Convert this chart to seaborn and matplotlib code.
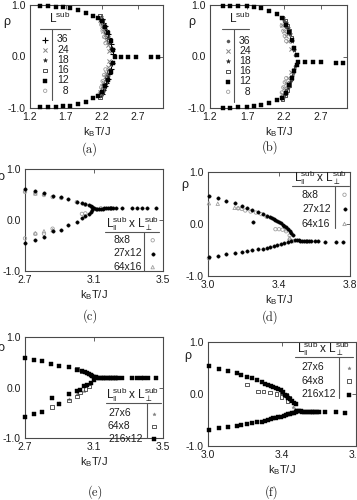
import matplotlib
matplotlib.use("Agg")
import matplotlib.pyplot as plt
import seaborn as sns
from matplotlib.lines import Line2D

# ---------------- data ----------------
y_ticks = [-1.0, 0.0, 1.0]
y_ticklabels = ["-1.0", "0.0", "1.0"]
ab_xticks = [1.2, 1.7, 2.2, 2.7]
ab_xticklabels = ["1.2", "1.7", "2.2", "2.7"]
ce_xticks = [2.7, 3.1, 3.5]
ce_xticklabels = ["2.7", "3.1", "3.5"]
df_xticks = [3.0, 3.4, 3.8]
df_xticklabels = ["3.0", "3.4", "3.8"]

ab_labels = ["36", "24", "18", "16", "12", "\u20078"]
cd_labels = ["8x8", "27x12", "64x16"]
ef_labels = ["27x6", "64x8", "216x12"]

# panel (a)
a_T36 = [2.20, 2.22, 2.24, 2.26, 2.28, 2.30, 2.32, 2.34, 2.36,
         2.20, 2.22, 2.24, 2.26, 2.28, 2.30, 2.32, 2.34]
a_rho36 = [0.72, 0.66, 0.60, 0.52, 0.44, 0.35, 0.25, 0.14, 0.04,
           -0.72, -0.65, -0.58, -0.52, -0.43, -0.34, -0.24, -0.13]
a_T24 = [2.18, 2.20, 2.22, 2.24, 2.26, 2.28, 2.30,
         2.18, 2.20, 2.22, 2.24, 2.26, 2.28, 2.30]
a_rho24 = [0.70, 0.60, 0.50, 0.42, 0.33, 0.22, 0.10,
           -0.68, -0.58, -0.50, -0.40, -0.32, -0.20, -0.08]
a_T18 = [2.19, 2.21, 2.23, 2.25, 2.27, 2.29, 2.31, 2.33,
         2.19, 2.21, 2.23, 2.25, 2.27, 2.29, 2.31, 2.33]
a_rho18 = [0.76, 0.70, 0.64, 0.57, 0.48, 0.38, 0.28, 0.16,
           -0.76, -0.69, -0.63, -0.56, -0.47, -0.38, -0.27, -0.15]
a_T16 = [2.17, 2.19, 2.21, 2.23, 2.25, 2.27, 2.29,
         2.17, 2.19, 2.21, 2.23, 2.25, 2.27, 2.29]
a_rho16 = [0.78, 0.72, 0.66, 0.58, 0.50, 0.40, 0.30,
           -0.78, -0.71, -0.65, -0.57, -0.49, -0.40, -0.29]
a_T12 = [1.34, 1.45, 1.56, 1.66, 1.76, 1.87, 1.98, 2.08, 2.15, 2.20, 2.25, 2.29, 2.32, 2.35,
         1.34, 1.45, 1.56, 1.66, 1.76, 1.87, 1.98, 2.08, 2.15, 2.20, 2.25, 2.29, 2.32, 2.35,
         2.38, 2.47, 2.57, 2.68, 2.89, 2.98]
a_rho12 = [0.99, 0.98, 0.97, 0.96, 0.94, 0.90, 0.85, 0.78, 0.74, 0.68, 0.58, 0.45, 0.30, 0.12,
           -0.99, -0.99, -0.98, -0.97, -0.96, -0.92, -0.88, -0.81, -0.76, -0.69, -0.58, -0.45, -0.30, -0.12,
           0.0, 0.0, 0.0, 0.0, 0.0, 0.0]
a_T8 = [2.17, 2.19, 2.21, 2.23, 2.25, 2.17, 2.19, 2.21, 2.23, 2.25]
a_rho8 = [0.74, 0.62, 0.50, 0.38, 0.26, -0.72, -0.60, -0.48, -0.36, -0.25]

# panel (b)
b_T36 = [2.20, 2.23, 2.26, 2.29, 2.32, 2.35, 2.20, 2.23, 2.26, 2.29, 2.32, 2.35]
b_rho36 = [0.68, 0.58, 0.45, 0.32, 0.18, 0.02, -0.75, -0.65, -0.55, -0.45, -0.32, -0.18]
b_T24 = [2.17, 2.20, 2.23, 2.26, 2.29, 2.17, 2.20, 2.23, 2.26, 2.29]
b_rho24 = [0.62, 0.50, 0.40, 0.30, 0.15, -0.72, -0.62, -0.52, -0.42, -0.30]
b_T18 = [2.19, 2.22, 2.25, 2.28, 2.31, 2.34, 2.19, 2.22, 2.25, 2.28, 2.31, 2.34]
b_rho18 = [0.74, 0.66, 0.56, 0.44, 0.30, 0.12, -0.80, -0.72, -0.62, -0.50, -0.38, -0.24]
b_T16 = [2.18, 2.21, 2.24, 2.27, 2.30, 2.18, 2.21, 2.24, 2.27, 2.30]
b_rho16 = [0.76, 0.70, 0.60, 0.50, 0.36, -0.82, -0.75, -0.66, -0.55, -0.42]
b_T12 = [1.38, 1.47, 1.58, 1.70, 1.79, 1.89, 1.99, 2.10, 2.17, 2.22, 2.27, 2.31, 2.34, 2.37,
         1.38, 1.47, 1.58, 1.70, 1.79, 1.89, 1.99, 2.10, 2.17, 2.22, 2.27, 2.31, 2.34, 2.37,
         2.39, 2.48, 2.59, 2.70, 2.90, 3.00]
b_rho12 = [0.99, 0.99, 0.98, 0.98, 0.97, 0.94, 0.89, 0.82, 0.74, 0.62, 0.48, 0.32, 0.16, 0.02,
           -1.00, -1.00, -0.99, -0.98, -0.97, -0.95, -0.91, -0.85, -0.80, -0.70, -0.56, -0.42, -0.28, -0.16,
           -0.10, -0.10, -0.10, -0.10, -0.13, -0.13]
b_T8 = [2.17, 2.19, 2.21, 2.23, 2.17, 2.19, 2.21, 2.23]
b_rho8 = [0.60, 0.50, 0.40, 0.30, -0.70, -0.60, -0.50, -0.42]

# panel (c)
c_T8 = [2.70, 2.76, 2.81, 2.86, 2.91, 3.00, 3.05, 3.09, 3.14, 3.20,
        2.70, 2.76, 2.81, 2.86, 3.03, 3.05]
c_rho8 = [0.55, 0.52, 0.49, 0.45, 0.43, 0.35, 0.30, 0.25, 0.23, 0.23,
          -0.36, -0.27, -0.27, -0.17, 0.12, 0.13]
c_T27 = [2.70, 2.76, 2.81, 2.86, 2.91, 2.95, 3.00, 3.03, 3.05, 3.07, 3.08, 3.09, 3.10,
         2.70, 2.76, 2.81, 2.86, 2.91, 2.95, 3.00, 3.03, 3.05, 3.07, 3.08, 3.09,
         3.11, 3.12, 3.13, 3.14, 3.15, 3.16, 3.17, 3.18, 3.19, 3.20, 3.21, 3.23, 3.26,
         3.32, 3.35, 3.38, 3.41, 3.46]
c_rho27 = [0.60, 0.57, 0.53, 0.48, 0.45, 0.41, 0.36, 0.33, 0.31, 0.29, 0.27, 0.25, 0.23,
           -0.46, -0.40, -0.33, -0.22, -0.19, -0.10, -0.03, 0.03, 0.08, 0.12, 0.16, 0.20,
           0.22, 0.22, 0.22, 0.22, 0.22, 0.23, 0.23, 0.23, 0.23, 0.23, 0.23, 0.23, 0.23,
           0.23, 0.23, 0.23, 0.23, 0.23]
c_T64 = [2.70, 2.76, 2.81, 2.76, 2.81, 2.86]
c_rho64 = [0.58, 0.52, 0.51, -0.26, -0.22, -0.20]

# panel (d)
d_T8 = [3.17, 3.19, 3.21, 3.24, 3.27, 3.30, 3.33, 3.38, 3.40, 3.42, 3.44, 3.46, 3.005, 3.46, 3.48]
d_rho8 = [0.30, 0.29, 0.26, 0.24, 0.22, 0.19, 0.14, -0.10, -0.10, -0.11, -0.14, -0.22, -0.66, -0.30, -0.33]
d_T27 = [3.005, 3.055, 3.10, 3.15, 3.19, 3.22, 3.25, 3.28, 3.31, 3.33, 3.35, 3.36, 3.37, 3.38,
         3.39, 3.40, 3.41, 3.42, 3.43, 3.44, 3.45, 3.46, 3.47, 3.48, 3.255,
         3.005, 3.055, 3.10, 3.15, 3.19, 3.22, 3.25, 3.28, 3.31, 3.33, 3.35, 3.37, 3.39,
         3.41, 3.43, 3.45, 3.47, 3.49,
         3.50, 3.51, 3.52, 3.53, 3.54, 3.55, 3.56, 3.57, 3.58, 3.60, 3.62, 3.66, 3.72, 3.76]
d_rho27 = [0.54, 0.50, 0.45, 0.40, 0.35, 0.31, 0.27, 0.24, 0.20, 0.16, 0.13, 0.11, 0.09, 0.07,
           0.05, 0.03, 0.01, -0.01, -0.03, -0.06, -0.09, -0.13, -0.17, -0.22, 0.03,
           -0.64, -0.61, -0.58, -0.55, -0.53, -0.52, -0.50, -0.49, -0.48, -0.47, -0.45, -0.43, -0.41,
           -0.39, -0.37, -0.35, -0.33, -0.31,
           -0.31, -0.31, -0.32, -0.32, -0.32, -0.32, -0.33, -0.33, -0.33, -0.33, -0.33, -0.34, -0.34, -0.34]
d_T64 = [3.005, 3.055, 3.15, 3.17, 3.44, 3.46]
d_rho64 = [0.40, 0.39, 0.31, 0.31, -0.10, -0.27]

# panel (e)
e_T27 = [2.90, 2.955, 3.00, 3.04]
e_rho27 = [-0.30, -0.22, -0.12, -0.06]
e_T64 = [2.855, 2.955, 3.00, 3.02, 3.05, 3.07, 3.00, 3.03]
e_rho64 = [-0.38, -0.26, -0.18, -0.10, -0.03, 0.02, 0.36, 0.32]
e_T216 = [2.70, 2.75, 2.80, 2.85, 2.90, 2.955, 3.00, 3.03, 3.05, 3.06, 3.07, 3.08, 3.09, 3.10,
          3.11, 3.12, 3.13,
          2.70, 2.75, 2.80, 2.855, 2.90, 2.955, 3.00, 3.02, 3.04, 3.06, 3.08, 3.10,
          3.14, 3.15, 3.16, 3.17, 3.18, 3.19, 3.20, 3.21, 3.22, 3.23, 3.24, 3.26,
          3.32, 3.35, 3.37, 3.39, 3.415, 3.46]
e_rho216 = [0.58, 0.55, 0.52, 0.47, 0.43, 0.40, 0.35, 0.32, 0.30, 0.28, 0.26, 0.24, 0.22, 0.21,
            0.20, 0.19, 0.19,
            -0.58, -0.53, -0.48, -0.21, -0.33, -0.13, -0.07, -0.04, 0.02, 0.05, 0.08, 0.14,
            0.18, 0.18, 0.18, 0.18, 0.18, 0.18, 0.18, 0.18, 0.18, 0.18, 0.18, 0.18,
            0.19, 0.19, 0.19, 0.19, 0.19, 0.19]

# panel (f)
f_T27 = [3.40, 3.42, 3.44, 3.46, 3.47]
f_rho27 = [0.05, -0.02, -0.08, -0.25, -0.28]
f_T64 = [3.21, 3.27, 3.30, 3.335, 3.37, 3.398, 3.43, 3.40, 3.42, 3.44]
f_rho64 = [0.18, 0.05, 0.05, 0.03, 0.00, -0.06, -0.13, 0.03, -0.02, -0.08]
f_T216 = [3.005, 3.06, 3.106, 3.155, 3.178, 3.21, 3.236, 3.263, 3.29, 3.31, 3.326, 3.34, 3.353,
          3.37, 3.38, 3.395, 3.405, 3.416, 3.425, 3.434, 3.445, 3.456, 3.465, 3.474,
          3.005, 3.06, 3.106, 3.155, 3.178, 3.21, 3.236, 3.263, 3.29, 3.31, 3.326, 3.34, 3.353,
          3.37, 3.38, 3.395, 3.41, 3.42, 3.434, 3.445, 3.456, 3.465, 3.474,
          3.48, 3.49, 3.50, 3.51, 3.52, 3.53, 3.54, 3.55, 3.56, 3.57, 3.58, 3.59, 3.60,
          3.63, 3.69, 3.74]
f_rho216 = [0.54, 0.49, 0.45, 0.40, 0.37, 0.33, 0.30, 0.27, 0.23, 0.20, 0.18, 0.16, 0.14,
            0.12, 0.10, 0.07, 0.03, -0.01, -0.04, -0.07, -0.10, -0.14, -0.17, -0.19,
            -0.70, -0.66, -0.64, -0.61, -0.59, -0.57, -0.56, -0.54, -0.53, -0.52, -0.50, -0.49, -0.47,
            -0.46, -0.45, -0.44, -0.43, -0.41, -0.39, -0.38, -0.37, -0.36, -0.35,
            -0.33, -0.33, -0.33, -0.34, -0.34, -0.34, -0.34, -0.34, -0.35, -0.35, -0.35, -0.35, -0.35,
            -0.35, -0.35, -0.36]

# ---------------- style ----------------
sns.set_theme(style="white")
plt.rcParams["font.family"] = ["Liberation Sans", "DejaVu Sans"]
plt.rcParams["mathtext.fontset"] = "custom"
plt.rcParams["mathtext.rm"] = "Liberation Sans"
plt.rcParams["mathtext.it"] = "Liberation Sans:italic"
plt.rcParams["mathtext.bf"] = "Liberation Sans:bold"
plt.rcParams["axes.unicode_minus"] = False

W, H = 357, 500
fig = plt.figure(figsize=(W / 100, H / 100), dpi=100)
fig.patch.set_facecolor("white")


def fx(px):
    return px / W


def fy(py):
    return 1 - py / H


STY = {
    "plus": dict(marker="+", s=14, color="black", linewidth=0.8),
    "cross": dict(marker="x", s=9, color="#858585", linewidth=0.7),
    "star": dict(marker="*", s=10, color="#202020", edgecolor="#202020", linewidth=0.3),
    "osq": dict(marker="s", s=7, color="#505050", facecolor="none", edgecolor="#505050", linewidth=0.7),
    "fsq": dict(marker="s", s=8, color="black", edgecolor="black", linewidth=0.3),
    "ocirc": dict(marker="o", s=6, color="#a0a0a0", facecolor="none", edgecolor="#a0a0a0", linewidth=0.6),
    "gdot": dict(marker="o", s=5, color="#555555", edgecolor="#555555", linewidth=0.3),
    "bdot": dict(marker="o", s=6, color="black", edgecolor="black", linewidth=0.3),
    "otri": dict(marker="^", s=6, color="#a0a0a0", facecolor="none", edgecolor="#a0a0a0", linewidth=0.6),
    "gstar": dict(marker="*", s=6, color="#808080", edgecolor="#808080", linewidth=0.3),
    "osq2": dict(marker="s", s=7, color="#404040", facecolor="none", edgecolor="#404040", linewidth=0.6),
}

EDGE = "#4a4a4a"
TXT = "#1e1e1e"


def make_ax(l, t, r, b, xlim, xticks, xticklabels):
    ax = fig.add_axes([fx(l), fy(b), (r - l) / W, (b - t) / H])
    ax.set_xlim(*xlim)
    ax.set_ylim(-1.0, 1.0)
    ax.set_xticks(xticks)
    ax.set_xticklabels(xticklabels)
    ax.set_yticks(y_ticks)
    ax.set_yticklabels(y_ticklabels)
    ax.tick_params(direction="in", length=3, width=0.6, top=True, right=True,
                   labelsize=7.5, pad=3, color=EDGE, labelcolor=TXT)
    for sp in ax.spines.values():
        sp.set_color(EDGE)
        sp.set_linewidth(0.8)
    ax.set_xlabel(r"k$_\mathrm{B}$T/J", fontsize=8, labelpad=2.5, color=TXT)
    return ax


def draw(ax, T, R, sty, label):
    sns.scatterplot(x=T, y=R, ax=ax, label=label, legend=False, zorder=3,
                    clip_on=False, **STY[sty])
    return ax.collections[-1]


def rho_label(ax, px, py, l, t, r, b):
    ax.set_ylabel("\u03c1", rotation=0, fontsize=9, color=TXT, ha="center", va="center")
    ax.yaxis.set_label_coords((px - l) / (r - l), (b - py) / (b - t))


def sub_label(txt, px, py):
    fig.text(fx(px), fy(py), txt, fontsize=9, family="cmr10", ha="center", va="center", color=TXT)


def rules(header, hxy, hfs, hline, vline):
    fig.text(fx(hxy[0]), fy(hxy[1]), header, fontsize=hfs, ha="center", va="center", color=TXT)
    fig.add_artist(Line2D([fx(hline[0]), fx(hline[1])], [fy(hline[2]), fy(hline[2])],
                          color="#555555", lw=0.8, transform=fig.transFigure))
    fig.add_artist(Line2D([fx(vline[0]), fx(vline[0])], [fy(vline[1]), fy(vline[2])],
                          color="#555555", lw=0.8, transform=fig.transFigure))


def legend_ab(ax, handles, labels, anchor, hts, header, hxy, hline, vline):
    ax.legend(handles, labels, loc="upper left", bbox_to_anchor=(fx(anchor[0]), fy(anchor[1])),
              bbox_transform=fig.transFigure, frameon=False, fontsize=7.5,
              markerfirst=True, handlelength=0.8, handletextpad=hts,
              labelspacing=0.02, borderpad=0, borderaxespad=0, scatterpoints=1,
              labelcolor=TXT)
    rules(header, hxy, 8.5, hline, vline)


pending = []


def legend_cf(ax, handles, labels, marker_px, top_py, ls, text_left, header, hxy, hline, vline):
    fs = 7.5
    hl = 0.8
    left = marker_px - hl * fs * 100 / 72 / 2
    leg = ax.legend(handles, [" "] * len(handles), loc="upper left",
                    bbox_to_anchor=(fx(left), fy(top_py)),
                    bbox_transform=fig.transFigure, frameon=False, fontsize=fs,
                    markerfirst=True, handlelength=hl, handletextpad=0.0,
                    labelspacing=ls, borderpad=0, borderaxespad=0, scatterpoints=1)
    pending.append((leg, labels, text_left, fs))
    rules(header, hxy, 8.5, hline, vline)


HDR1 = r"L$^{\mathrm{sub}}$"
HDR2 = r"$\mathrm{L}_{\Vert}^{\mathrm{sub}}\;\mathrm{x}\;\mathrm{L}_{\perp}^{\mathrm{sub}}$"

# ---------------- panel (a) ----------------
box = (30, 5, 163, 108)
ax = make_ax(*box, (1.2, 3.05), ab_xticks, ab_xticklabels)
h36 = draw(ax, a_T36, a_rho36, "plus", ab_labels[0])
h24 = draw(ax, a_T24, a_rho24, "cross", ab_labels[1])
h18 = draw(ax, a_T18, a_rho18, "star", ab_labels[2])
h16 = draw(ax, a_T16, a_rho16, "osq", ab_labels[3])
h8 = draw(ax, a_T8, a_rho8, "ocirc", ab_labels[5])
h12 = draw(ax, a_T12, a_rho12, "fsq", ab_labels[4])
rho_label(ax, 7, 22, *box)
legend_ab(ax, [h36, h24, h18, h16, h12, h8], ab_labels, (41, 34.5), 0.75,
          HDR1, (60, 18), (40, 70, 29), (52, 29, 100))
sub_label("(a)", 90, 149)

# ---------------- panel (b) ----------------
box = (210, 5, 347, 108)
ax = make_ax(*box, (1.2, 3.05), ab_xticks, ab_xticklabels)
h36 = draw(ax, b_T36, b_rho36, "gdot", ab_labels[0])
h24 = draw(ax, b_T24, b_rho24, "cross", ab_labels[1])
h18 = draw(ax, b_T18, b_rho18, "star", ab_labels[2])
h16 = draw(ax, b_T16, b_rho16, "osq", ab_labels[3])
h8 = draw(ax, b_T8, b_rho8, "ocirc", ab_labels[5])
h12 = draw(ax, b_T12, b_rho12, "fsq", ab_labels[4])
rho_label(ax, 192, 22, *box)
legend_ab(ax, [h36, h24, h18, h16, h12, h8], ab_labels, (224, 35.5), 0.65,
          HDR1, (240, 18), (222, 249, 29), (234.3, 29, 102))
sub_label("(b)", 270, 147)

# ---------------- panel (c) ----------------
box = (25, 169, 163, 271)
ax = make_ax(*box, (2.7, 3.5), ce_xticks, ce_xticklabels)
h8 = draw(ax, c_T8, c_rho8, "ocirc", cd_labels[0])
h64 = draw(ax, c_T64, c_rho64, "otri", cd_labels[2])
h27 = draw(ax, c_T27, c_rho27, "bdot", cd_labels[1])
rho_label(ax, 1, 177, *box)
legend_cf(ax, [h8, h27, h64], cd_labels, 152.7, 235, 0.33, 113,
          HDR2, (132.5, 224), (105, 159, 231.5), (144, 231.5, 271))
sub_label("(c)", 90, 316)

# ---------------- panel (d) ----------------
box = (208, 172, 350, 276)
ax = make_ax(*box, (3.0, 3.8), df_xticks, df_xticklabels)
h8 = draw(ax, d_T8, d_rho8, "ocirc", cd_labels[0])
h64 = draw(ax, d_T64, d_rho64, "otri", cd_labels[2])
h27 = draw(ax, d_T27, d_rho27, "bdot", cd_labels[1])
rho_label(ax, 185, 185, *box)
legend_cf(ax, [h8, h27, h64], cd_labels, 344.5, 189.5, 0.44, 302,
          HDR2, (321, 178), (292, 349, 186), (334.5, 186, 228))
sub_label("(d)", 270, 317)

# ---------------- panel (e) ----------------
box = (25, 337, 163, 438)
ax = make_ax(*box, (2.7, 3.5), ce_xticks, ce_xticklabels)
h27 = draw(ax, e_T27, e_rho27, "gstar", ef_labels[0])
h64 = draw(ax, e_T64, e_rho64, "osq2", ef_labels[1])
h216 = draw(ax, e_T216, e_rho216, "fsq", ef_labels[2])
rho_label(ax, 1, 348, *box)
legend_cf(ax, [h27, h64, h216], ef_labels, 154, 408.5, 0.26, 108,
          HDR2, (133, 395), (106, 161, 402.7), (146.7, 402.7, 438))
sub_label("(e)", 95, 492)

# ---------------- panel (f) ----------------
box = (208, 342, 356, 446)
ax = make_ax(*box, (3.0, 3.8), df_xticks, df_xticklabels)
h27 = draw(ax, f_T27, f_rho27, "gstar", ef_labels[0])
h64 = draw(ax, f_T64, f_rho64, "osq2", ef_labels[1])
h216 = draw(ax, f_T216, f_rho216, "fsq", ef_labels[2])
rho_label(ax, 188, 356, *box)
legend_cf(ax, [h27, h64, h216], ef_labels, 349, 362.5, 0.33, 301,
          HDR2, (324, 349), (295, 353, 356.7), (339, 356.7, 398))
sub_label("(f)", 272, 492)

# place legend labels (left aligned) on the rows of the marker legends
fig.canvas.draw()
renderer = fig.canvas.get_renderer()
for leg, labels, text_left, fs in pending:
    for t, lab in zip(leg.get_texts(), labels):
        bb = t.get_window_extent(renderer)
        yc = 0.5 * (bb.y0 + bb.y1) / fig.bbox.height
        fig.text(fx(text_left), yc, lab, fontsize=fs, ha="left", va="center", color=TXT)

fig.savefig("out.png", dpi=100, facecolor="white")
